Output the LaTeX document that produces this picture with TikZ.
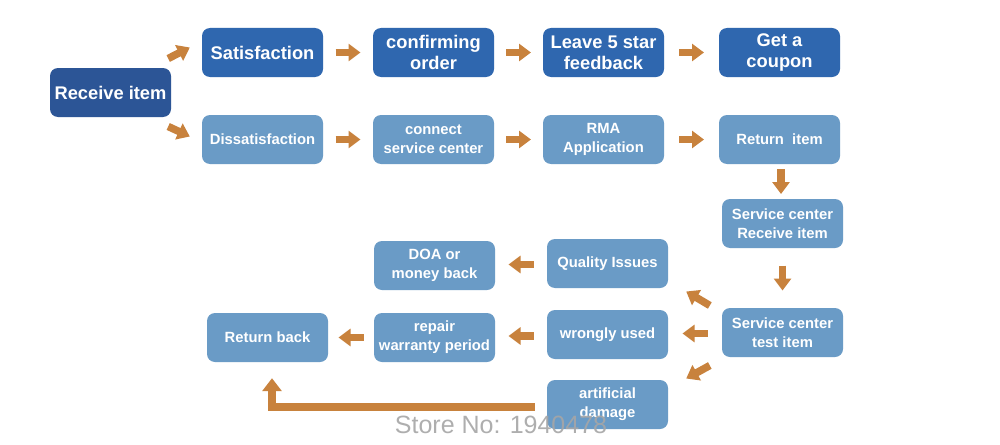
\documentclass[tikz,border=0pt]{standalone}
\usepackage{fontspec}
\setmainfont{Liberation Sans}
\usetikzlibrary{arrows.meta,calc}
\definecolor{dkblue}{HTML}{2C5596}
\definecolor{mdblue}{HTML}{2F67AF}
\definecolor{ltblue}{HTML}{6A9BC6}
\definecolor{orng}{HTML}{C8823D}
\definecolor{wmgray}{HTML}{A6A6A6}
\newcommand\rarrow[2]{\draw[barrow] ($(#1.east)!.5!(#2.west)+(-12.5,0)$) -- ++(25,0);}
\newcommand\larrow[2]{\draw[barrow] ($(#1.west)!.5!(#2.east)+(12.5,0)$) -- ++(-25,0);}
\newcommand\darrow[2]{\draw[barrow] ($(#1.south)!.5!(#2.north)+(0,-12.5)$) -- ++(0,25);}
\begin{document}
\begin{tikzpicture}[x=1pt,y=-1pt,
  box/.style={rounded corners=8pt, minimum width=121pt, minimum height=49pt, inner sep=0pt,
    text=white, align=center, font=\fontsize{14.8}{19}\selectfont\bfseries, fill=ltblue},
  bigbox/.style={box, font=\fontsize{18.3}{21}\selectfont\bfseries, fill=mdblue},
  barrow/.style={draw=orng, line width=7.5pt, line join=miter, -{Triangle[width=17pt,length=12pt]}}]
\useasboundingbox[fill=white] (0,0) rectangle (1000,444);

\node[bigbox, fill=dkblue] (recv) at (110.5,92.5) {Receive item};
\node[bigbox] (sat) at (262.5,52.5) {Satisfaction};
\node[bigbox] (conf) at (433.5,52.5) {confirming\\order};
\node[bigbox] (leave) at (603.5,52.5) {Leave 5 star\\feedback};
\node[bigbox] (coupon) at (779.5,52.5) {Get a\\coupon};

\node[box] (dis) at (262.5,139.5) {Dissatisfaction};
\node[box] (conn) at (433.5,139.5) {connect\\service center};
\node[box] (rma) at (603.5,139.5) {RMA\\Application};
\node[box] (ret) at (779.5,139.5) {Return\ \ item};
\node[box] (scr) at (782.5,223.5) {Service center\\Receive item};
\node[box] (qual) at (607.5,263.5) {Quality Issues};
\node[box] (doa) at (434.5,265.5) {DOA or\\money back};
\node[box] (sct) at (782.5,332.5) {Service center\\test item};
\node[box] (wrong) at (607.5,334.5) {wrongly used};
\node[box] (repair) at (434.5,337.5) {repair\\warranty period};
\node[box] (back) at (267.5,337.5) {Return back};
\node[box] (art) at (607.5,404.5) {artificial\\damage};

\draw[barrow] ($(recv.east)+(-3,-34)$) -- ($(sat.west)+(-12,-5)$);
\draw[barrow] ($(recv.east)+(-3,34)$) -- ($(dis.west)+(-12,-3)$);
\rarrow{sat}{conf}
\rarrow{conf}{leave}
\rarrow{leave}{coupon}
\rarrow{dis}{conn}
\rarrow{conn}{rma}
\rarrow{rma}{ret}
\darrow{ret}{scr}
\darrow{scr}{sct}
\larrow{sct}{wrong}
\draw[barrow] ($(sct.west)+(-12,-27)$) -- ($(qual.east)+(18,28)$);
\draw[barrow] ($(sct.west)+(-12,33)$) -- ($(art.east)+(18,-26)$);
\larrow{qual}{doa}
\larrow{wrong}{repair}
\larrow{repair}{back}
\coordinate (backin) at ($(back.south)+(4.5,16)$);
\draw[barrow, -{Triangle[width=19pt,length=13pt]}] ($(art.west)+(-12,2.5)$) -| (backin);

\node[text=wmgray, opacity=0.9, font=\fontsize{25}{30}\selectfont, anchor=base] (wmk) at (501,433) {Store No: 1940478};
\end{tikzpicture}
\end{document}
